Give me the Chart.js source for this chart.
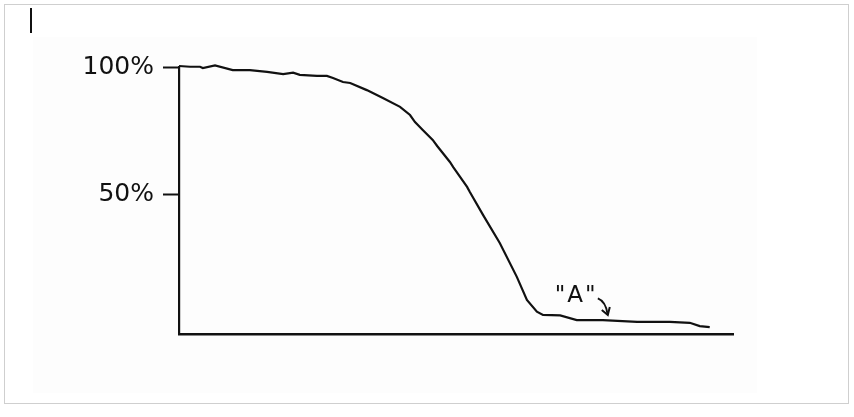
<!DOCTYPE html>
<html lang="en">
<head>
  <meta charset="UTF-8" />
  <title>Decay curve</title>
  <script src="https://cdn.jsdelivr.net/npm/chart.js@4.4.0/dist/chart.umd.min.js"></script>
  <style>
    html, body {
      margin: 0;
      padding: 0;
      background: #fff;
    }
    .frame {
      position: absolute;
      left: 4px;
      top: 4px;
      width: 843px;
      height: 398px;
      border: 1.5px solid #cfcfcf;
    }
    .scan {
      position: absolute;
      left: 33px;
      top: 37px;
      width: 724px;
      height: 356px;
      background: #fdfdfd;
    }
    .mark {
      position: absolute;
      left: 30px;
      top: 8px;
      width: 2px;
      height: 25px;
      background: #111;
    }
    canvas {
      position: absolute;
      left: 0;
      top: 0;
    }
  </style>
</head>
<body>
  <div class="frame"></div>
  <div class="scan"></div>
  <div class="mark"></div>
  <canvas id="chart" width="854" height="417"></canvas>

  <script>
    // values (x in % of the axis length, y in %)
    const xs = [0, 2.0, 3.8, 4.3, 6.5, 9.7, 12.8, 15.9, 18.8, 20.6, 21.8, 24.9, 26.7, 27.8,
                29.6, 30.9, 33.9, 36.8, 39.9, 41.7, 42.6, 44.0, 45.8, 46.6, 48.9, 49.5,
                52.0, 52.5, 54.9, 57.9, 61.0, 62.8, 64.6, 65.7, 68.8, 71.8, 76.5, 82.7,
                88.6, 92.2, 94.0, 95.8];
    const ys = [100.4, 100.1, 100.1, 99.6, 100.6, 98.8, 98.8, 98.1, 97.2, 97.8, 96.9, 96.5, 96.5, 95.7,
                94.1, 93.7, 90.9, 87.8, 84.3, 81.1, 78.3, 75.2, 71.3, 68.9, 62.6, 60.6,
                52.8, 50.8, 41.7, 30.7, 17.3, 8.3, 3.7, 2.4, 2.2, 0.4, 0.4, -0.3,
                -0.3, -0.7, -2.0, -2.4];
    const yTicks = [50, 100];
    const noteText = '"A"';
    const notePos = { x: 71.5, y: 7.6 };
    const arrowFrom = { x: 75.6, y: 8.9 };
    const arrowTo = { x: 77.4, y: 2.4 };

    const points = xs.map((x, i) => ({ x: x, y: ys[i] }));
    const font = '"DejaVu Sans", Verdana, sans-serif';

    // the "A" label and its little arrow
    const notePlugin = {
      id: 'note',
      afterDatasetsDraw(chart) {
        const ctx = chart.ctx;
        const sx = chart.scales.x, sy = chart.scales.y;
        ctx.save();
        ctx.fillStyle = '#111';
        ctx.font = '23px ' + font;
        ctx.textAlign = 'center';
        ctx.textBaseline = 'alphabetic';
        ctx.letterSpacing = '2px';
        ctx.fillText(noteText, sx.getPixelForValue(notePos.x) + 1, sy.getPixelForValue(notePos.y));

        const x1 = sx.getPixelForValue(arrowFrom.x), y1 = sy.getPixelForValue(arrowFrom.y);
        const x2 = sx.getPixelForValue(arrowTo.x), y2 = sy.getPixelForValue(arrowTo.y);
        ctx.strokeStyle = '#111';
        ctx.lineWidth = 2;
        ctx.beginPath();
        ctx.moveTo(x1, y1);
        ctx.quadraticCurveTo(x1 + 8, y1 + 3, x2, y2);
        ctx.stroke();
        ctx.beginPath();
        ctx.moveTo(x2 - 6, y2 - 5);
        ctx.lineTo(x2, y2);
        ctx.lineTo(x2 + 2, y2 - 8);
        ctx.stroke();
        ctx.restore();
      }
    };

    new Chart(document.getElementById('chart'), {
      type: 'line',
      data: {
        datasets: [{
          data: points,
          borderColor: '#111',
          borderWidth: 2.2,
          pointRadius: 0,
          tension: 0,
          fill: false,
          clip: false
        }]
      },
      options: {
        responsive: false,
        animation: false,
        layout: { padding: { top: 67, right: 121, left: 0, bottom: 0 } },
        plugins: {
          legend: { display: false },
          tooltip: { enabled: false }
        },
        scales: {
          x: {
            type: 'linear',
            min: 0,
            max: 100,
            afterFit: s => { s.height = 83; },
            ticks: { display: false },
            grid: { drawOnChartArea: false, drawTicks: false },
            border: { color: '#111', width: 2.5 }
          },
          y: {
            min: -5.1,
            max: 100,
            afterFit: s => { s.width = 179; },
            afterBuildTicks: s => { s.ticks = yTicks.map(v => ({ value: v })); },
            ticks: {
              color: '#111',
              padding: 9,
              font: { family: font, size: 25 },
              callback: v => v + '%'
            },
            grid: {
              drawOnChartArea: false,
              tickLength: 16,
              tickColor: '#111',
              tickWidth: 2
            },
            border: { color: '#111', width: 2.2 }
          }
        }
      },
      plugins: [notePlugin]
    });
  </script>
</body>
</html>
